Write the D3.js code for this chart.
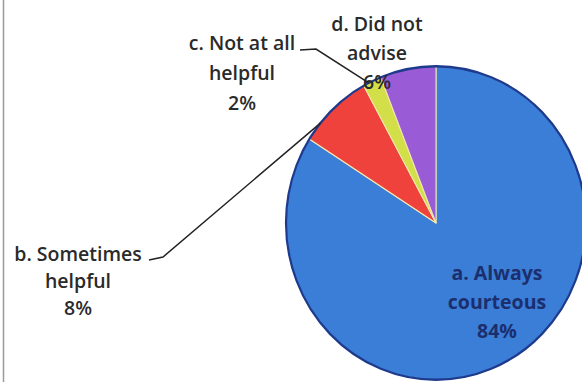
<!DOCTYPE html>
<html>
<head>
<meta charset="utf-8">
<script src="https://cdn.jsdelivr.net/npm/d3@7"></script>
<style>
  html, body { margin: 0; padding: 0; background: #fff; }
  svg { display: block; }
  text { font-family: "Open Sans", "DejaVu Sans", sans-serif; }
</style>
</head>
<body>
<svg id="chart" width="582" height="382"></svg>
<script>
// Survey answers, clockwise from twelve o'clock
const categories = ["a. Always courteous", "b. Sometimes helpful", "c. Not at all helpful", "d. Did not advise"];
const percents = [84, 8, 2, 6];
const sliceColors = ["#3b7ed8", "#ef423d", "#d3df48", "#9a5cd6"];

// Label lines for each slice (name lines + value line)
const labelLines = [
  ["a. Always", "courteous", "84%"],
  ["b. Sometimes", "helpful", "8%"],
  ["c. Not at all", "helpful", "2%"],
  ["d. Did not", "advise", "6%"]
];

const svg = d3.select("#chart");
const W = 582, H = 382;
const cx = 436, cy = 223, radius = 150, yStretch = 1.045;

// left frame edge
svg.append("line")
  .attr("x1", 3.5).attr("x2", 3.5).attr("y1", 0).attr("y2", H)
  .attr("stroke", "#9a9a9a").attr("stroke-width", 1.5);

const pie = d3.pie().sort(null).value(d => d)(percents);
const arc = d3.arc().innerRadius(0).outerRadius(radius);

const g = svg.append("g")
  .attr("transform", `translate(${cx},${cy}) scale(1,${yStretch})`);

g.selectAll("path.slice")
  .data(pie)
  .join("path")
  .attr("class", "slice")
  .attr("d", arc)
  .attr("fill", (d, i) => sliceColors[i])
  .attr("stroke", "#f4e9b0")
  .attr("stroke-width", 1);

// dark rim around the whole pie
g.append("path")
  .attr("d", d3.arc().innerRadius(radius).outerRadius(radius)({startAngle: 0, endAngle: 2 * Math.PI}))
  .attr("fill", "none")
  .attr("stroke", "#1d3a8c")
  .attr("stroke-width", 2.2);

// label anchor positions (centre x, first baseline y, line gap)
const labelPos = [
  {x: 497, y: 280, gap: 29, fill: "#1b2f6e", weight: 700},
  {x: 78, y: 261, gap: 27, fill: "#2a2a2a", weight: 600},
  {x: 242, y: 50, gap: 30, fill: "#2a2a2a", weight: 600},
  {x: 377, y: 31, gap: 29, fill: "#2a2a2a", weight: 600}
];

labelLines.forEach((lines, i) => {
  const p = labelPos[i];
  const t = svg.append("text")
    .attr("text-anchor", "middle")
    .attr("font-size", 19.5)
    .attr("font-weight", p.weight)
    .attr("fill", p.fill);
  lines.forEach((ln, k) => {
    t.append("tspan").attr("x", p.x).attr("y", p.y + k * p.gap).text(ln);
  });
});

// leader lines from outside labels to their slices
const leaderAt = (i, frac) => {
  const s = pie[i];
  const a = s.startAngle + (s.endAngle - s.startAngle) * frac;
  return [cx + radius * Math.sin(a), cy - radius * yStretch * Math.cos(a)];
};
const leaders = [
  {pts: [[149, 260], [163, 257]], slice: 1, frac: 0.25},
  {pts: [[300, 50], [316, 49]], slice: 2, frac: 0.3}
];
const line = d3.line();
leaders.forEach(l => {
  const end = leaderAt(l.slice, l.frac);
  svg.append("path")
    .attr("d", line([...l.pts, end]))
    .attr("fill", "none")
    .attr("stroke", "#222")
    .attr("stroke-width", 1.5);
});
</script>
</body>
</html>
